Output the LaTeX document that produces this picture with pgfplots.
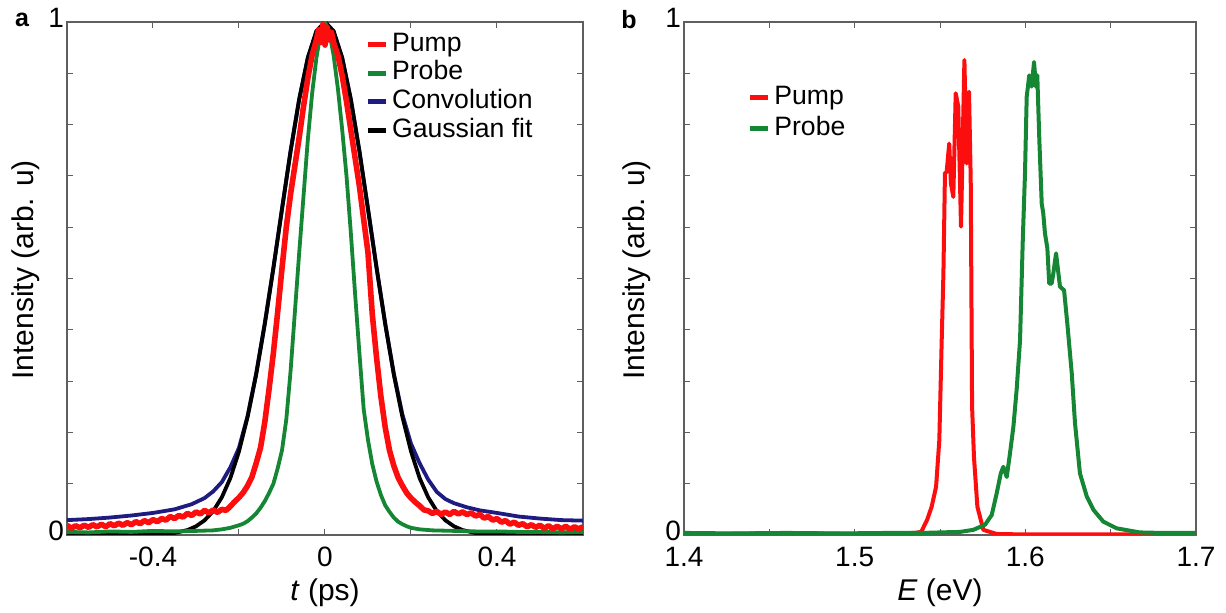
\documentclass[border=0pt]{standalone}
\usepackage{pgfplots}
\pgfplotsset{compat=1.18}
\usepackage{fontspec}
\setmainfont{Liberation Sans}
\definecolor{cRed}{RGB}{252,14,14}
\definecolor{cGreen}{RGB}{20,134,52}
\definecolor{cBlue}{RGB}{30,28,128}
\definecolor{cAxis}{RGB}{95,95,95}
\pgfplotsset{
  myaxis/.style={
    scale only axis, height=256.5pt,
    ymin=0, ymax=1,
    ytick={0,1}, yticklabels={0,1},
    minor ytick={0.1,0.2,0.3,0.4,0.5,0.6,0.7,0.8,0.9},
    tick align=inside,
    major tick length=3pt, minor tick length=3pt,
    every tick/.style={cAxis, line width=0.5pt},
    axis line style={cAxis, line width=0.6pt},
    tick label style={font=\fontsize{14}{16}\selectfont},
    /pgf/number format/assume math mode=true,
    label style={font=\fontsize{15}{18}\selectfont},
    yticklabel style={xshift=2pt, yshift=2pt},
    xticklabel style={yshift=-2.5pt},
    legend cell align=left,
    legend image code/.code={\draw[#1, line width=2.5pt] (0pt,0pt) -- (9pt,0pt);},
    every axis plot/.append style={line join=round},
  }
}
\begin{document}
\begin{tikzpicture}
\useasboundingbox (-33.5pt,-39pt) rectangle (579.5pt,267.5pt);
% ---------------- panel a ----------------
\begin{axis}[myaxis, at={(0pt,0pt)}, anchor=south west, width=258pt,
  xmin=-0.6, xmax=0.6,
  xtick={-0.4,0,0.4}, xticklabels={-0.4,0,0.4},
  minor xtick={-0.2,0.2},
  xlabel={\textit{t} (ps)},
  ylabel={Intensity (arb. u)},
  xlabel style={at={(axis description cs:0.5,-0.113)}, anchor=center},
  ylabel style={at={(axis description cs:-0.08,0.517)}, anchor=center},
  legend style={at={(rel axis cs:0.577,0.985)}, anchor=north west, draw=none, fill=none,
    inner sep=0pt, row sep=0pt, font=\fontsize{13.3}{15}\selectfont,
    nodes={text height=9.8pt, text depth=2.95pt, inner ysep=0.8pt, inner xsep=2pt}},
]
% Convolution
\addplot[cBlue, line width=1.9pt, forget plot] coordinates {
(-0.60,0.029) (-0.55,0.031) (-0.50,0.034) (-0.45,0.038) (-0.40,0.043) (-0.35,0.050)
(-0.31,0.060) (-0.28,0.072) (-0.26,0.085) (-0.24,0.103) (-0.22,0.132) (-0.20,0.170)
(-0.18,0.232) (-0.16,0.315) (-0.14,0.413) (-0.12,0.521) (-0.10,0.636) (-0.08,0.749)
(-0.06,0.850) (-0.04,0.930) (-0.02,0.982) (0,1.0) (0.02,0.982) (0.04,0.930) (0.06,0.850)
(0.08,0.749) (0.10,0.636) (0.12,0.521) (0.14,0.413) (0.16,0.315) (0.18,0.235) (0.20,0.178)
(0.22,0.140) (0.24,0.108) (0.26,0.084) (0.28,0.070) (0.30,0.062) (0.33,0.054) (0.36,0.048)
(0.40,0.043) (0.45,0.036) (0.50,0.032) (0.55,0.029) (0.60,0.028)};
% Gaussian fit
\addplot[black, line width=1.9pt, forget plot] coordinates {
(-0.60,0.000) (-0.50,0.000) (-0.40,0.0007) (-0.35,0.0039) (-0.32,0.0096) (-0.30,0.0169)
(-0.28,0.0286) (-0.26,0.0466) (-0.24,0.0734) (-0.22,0.111) (-0.20,0.163) (-0.18,0.230)
(-0.16,0.313) (-0.14,0.411) (-0.12,0.520) (-0.10,0.635) (-0.08,0.748) (-0.06,0.849)
(-0.04,0.930) (-0.02,0.982) (0,1.0) (0.02,0.982) (0.04,0.930) (0.06,0.849) (0.08,0.748)
(0.10,0.635) (0.12,0.520) (0.14,0.411) (0.16,0.313) (0.18,0.230) (0.20,0.163) (0.22,0.111)
(0.24,0.0734) (0.26,0.0466) (0.28,0.0286) (0.30,0.0169) (0.32,0.0096) (0.35,0.0039)
(0.40,0.0007) (0.50,0.000) (0.60,0.000)};
% Probe
\addplot[cGreen, line width=1.9pt, forget plot] coordinates {
(-0.60,0.006) (-0.55,0.005) (-0.50,0.007) (-0.45,0.006) (-0.40,0.008) (-0.35,0.007)
(-0.30,0.008) (-0.26,0.009) (-0.24,0.011) (-0.22,0.014) (-0.20,0.019) (-0.19,0.022)
(-0.18,0.027) (-0.17,0.034) (-0.16,0.042) (-0.15,0.053) (-0.14,0.066) (-0.13,0.082)
(-0.12,0.100) (-0.11,0.130) (-0.10,0.165) (-0.09,0.225) (-0.08,0.320) (-0.07,0.435)
(-0.06,0.550) (-0.05,0.660) (-0.04,0.770) (-0.03,0.860) (-0.02,0.930) (-0.01,0.980)
(0,1.0) (0.01,0.980) (0.02,0.935) (0.03,0.870) (0.04,0.790) (0.05,0.700) (0.06,0.590)
(0.07,0.470) (0.08,0.355) (0.09,0.245) (0.10,0.185) (0.11,0.138) (0.12,0.104)
(0.13,0.078) (0.14,0.058) (0.15,0.045) (0.16,0.034) (0.17,0.026) (0.18,0.021)
(0.19,0.017) (0.20,0.014) (0.22,0.011) (0.25,0.009) (0.30,0.008) (0.35,0.007)
(0.40,0.007) (0.45,0.006) (0.50,0.006) (0.55,0.005) (0.60,0.006)};
% Pump
\addplot[cRed, line width=2.8pt, forget plot] coordinates {
(-0.60,0.019) (-0.59,0.013) (-0.58,0.018) (-0.57,0.014) (-0.56,0.019) (-0.55,0.015)
(-0.54,0.020) (-0.53,0.016) (-0.52,0.021) (-0.51,0.016) (-0.50,0.022) (-0.49,0.018)
(-0.48,0.023) (-0.47,0.019) (-0.46,0.024) (-0.45,0.020) (-0.44,0.026) (-0.43,0.022)
(-0.42,0.028) (-0.41,0.024) (-0.40,0.030) (-0.39,0.026) (-0.38,0.032) (-0.37,0.029)
(-0.36,0.036) (-0.35,0.032) (-0.34,0.038) (-0.33,0.035) (-0.32,0.042) (-0.31,0.038)
(-0.30,0.045) (-0.29,0.041) (-0.28,0.048) (-0.27,0.043) (-0.26,0.049) (-0.25,0.044)
(-0.24,0.050) (-0.23,0.048) (-0.22,0.056) (-0.21,0.065) (-0.20,0.073) (-0.19,0.083)
(-0.18,0.096) (-0.17,0.113) (-0.16,0.140) (-0.15,0.170) (-0.14,0.220) (-0.13,0.285)
(-0.12,0.355) (-0.11,0.435) (-0.10,0.520) (-0.09,0.600) (-0.08,0.665) (-0.07,0.720)
(-0.06,0.775) (-0.05,0.835) (-0.04,0.890) (-0.03,0.935) (-0.02,0.965) (-0.015,0.985)
(-0.01,0.960) (-0.005,0.995) (0,0.955) (0.005,0.990) (0.01,0.965) (0.015,0.980)
(0.02,0.960) (0.03,0.935) (0.04,0.895) (0.05,0.845) (0.06,0.790) (0.07,0.735)
(0.08,0.680) (0.09,0.615) (0.10,0.550) (0.11,0.430) (0.12,0.345) (0.13,0.270)
(0.14,0.210) (0.15,0.165) (0.16,0.135) (0.17,0.112) (0.18,0.096) (0.19,0.082)
(0.20,0.072) (0.21,0.064) (0.22,0.057) (0.23,0.049) (0.24,0.047) (0.25,0.042)
(0.26,0.046) (0.27,0.040) (0.28,0.045) (0.29,0.040) (0.30,0.046) (0.31,0.041)
(0.32,0.045) (0.33,0.040) (0.34,0.043) (0.35,0.037) (0.36,0.040) (0.37,0.033)
(0.38,0.036) (0.39,0.029) (0.40,0.032) (0.41,0.025) (0.42,0.028) (0.43,0.021)
(0.44,0.025) (0.45,0.019) (0.46,0.022) (0.47,0.016) (0.48,0.020) (0.49,0.015)
(0.50,0.019) (0.51,0.013) (0.52,0.018) (0.53,0.012) (0.54,0.017) (0.55,0.012)
(0.56,0.017) (0.57,0.011) (0.58,0.016) (0.59,0.012) (0.60,0.016)};
\addlegendimage{cRed}\addlegendentry{Pump}
\addlegendimage{cGreen}\addlegendentry{Probe}
\addlegendimage{cBlue}\addlegendentry{Convolution}
\addlegendimage{black}\addlegendentry{Gaussian fit}
\end{axis}
% ---------------- panel b ----------------
\begin{axis}[myaxis, at={(308.5pt,0pt)}, anchor=south west, width=256pt,
  xmin=1.4, xmax=1.7,
  xtick={1.4,1.5,1.6,1.7}, xticklabels={1.4,1.5,1.6,1.7},
  minor xtick={1.45,1.55,1.65},
  xlabel={\textit{E} (eV)},
  ylabel={Intensity (arb. u)},
  xlabel style={at={(axis description cs:0.5,-0.113)}, anchor=center},
  ylabel style={at={(axis description cs:-0.092,0.517)}, anchor=center},
  legend style={at={(rel axis cs:0.123,0.884)}, anchor=north west, draw=none, fill=none,
    inner sep=0pt, row sep=0pt, font=\fontsize{13.3}{15}\selectfont,
    nodes={text height=10.2pt, text depth=3.3pt, inner ysep=1pt, inner xsep=2pt}},
]
\addplot[cRed, line width=2pt] coordinates {
(1.400,0.003) (1.420,0.002) (1.440,0.003) (1.460,0.002) (1.480,0.003) (1.500,0.002)
(1.520,0.003) (1.535,0.004) (1.539,0.006) (1.5425,0.030) (1.5451,0.055) (1.5477,0.094)
(1.5496,0.185) (1.551,0.38) (1.552,0.51) (1.5529,0.705) (1.5539,0.708) (1.5554,0.763)
(1.5564,0.685) (1.5578,0.659) (1.5592,0.861) (1.5607,0.835) (1.5623,0.601) (1.5643,0.926)
(1.5656,0.724) (1.567,0.864) (1.568,0.692) (1.5688,0.25) (1.5699,0.152) (1.5719,0.055)
(1.5754,0.010) (1.5832,0.002) (1.600,0.001) (1.650,0.001) (1.700,0.001)};
\addlegendentry{Pump}
\addplot[cGreen, line width=2pt] coordinates {
(1.400,0.004) (1.430,0.003) (1.460,0.004) (1.490,0.003) (1.520,0.004) (1.540,0.004)
(1.550,0.005) (1.5617,0.006) (1.5695,0.010) (1.5764,0.020) (1.5803,0.039) (1.5832,0.081)
(1.5856,0.120) (1.5871,0.133) (1.5891,0.113) (1.591,0.159) (1.593,0.211) (1.5949,0.283)
(1.5969,0.380) (1.5985,0.575) (1.5998,0.705) (1.6008,0.854) (1.6023,0.896) (1.6037,0.874)
(1.6051,0.922) (1.6062,0.874) (1.607,0.896) (1.6082,0.770) (1.6096,0.646) (1.6105,0.627)
(1.6115,0.588) (1.6129,0.559) (1.614,0.490) (1.6154,0.490) (1.6164,0.510) (1.618,0.549)
(1.6203,0.484) (1.6227,0.477) (1.6246,0.412) (1.6272,0.315) (1.6291,0.218) (1.632,0.120)
(1.636,0.075) (1.6399,0.049) (1.6457,0.026) (1.6535,0.013) (1.667,0.005) (1.680,0.004)
(1.700,0.004)};
\addlegendentry{Probe}
\end{axis}
\node[font=\fontsize{12.5}{14}\selectfont\bfseries] at (-22.5pt,257.75pt) {a};
\node[font=\fontsize{12.5}{14}\selectfont\bfseries] at (281pt,257.75pt) {b};
\end{tikzpicture}
\end{document}
